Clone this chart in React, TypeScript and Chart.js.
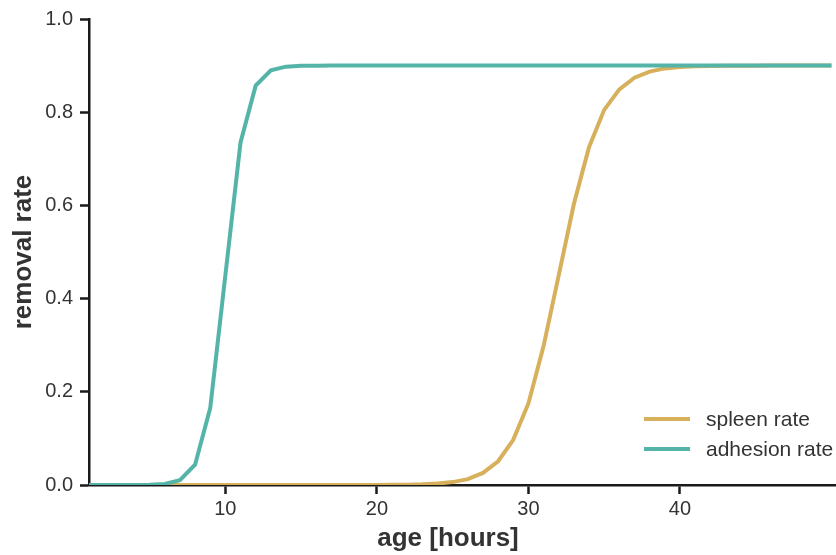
import { useEffect, useRef } from "react";
import { Chart, registerables } from "chart.js";

Chart.register(...registerables);

const ages = [
  1, 2, 3, 4, 5, 6, 7, 8, 9, 10,
  11, 12, 13, 14, 15, 16, 17, 18, 19, 20,
  21, 22, 23, 24, 25, 26, 27, 28, 29, 30,
  31, 32, 33, 34, 35, 36, 37, 38, 39, 40,
  41, 42, 43, 44, 45, 46, 47, 48, 49, 50,
];

const spleenRate = [
  0, 0, 0, 0, 0, 0, 0, 0, 0, 0,
  0, 0, 0, 0, 0, 0, 0, 0, 0.0001, 0.0002,
  0.0004, 0.0008, 0.0015, 0.003, 0.0062, 0.0125, 0.026, 0.051, 0.097, 0.175,
  0.298, 0.45, 0.603, 0.725, 0.805, 0.849, 0.874, 0.887, 0.894, 0.897,
  0.8985, 0.8993, 0.8997, 0.8998, 0.8999, 0.9, 0.9, 0.9, 0.9, 0.9,
];

const adhesionRate = [
  0, 0, 0, 0.0001, 0.0005, 0.0023, 0.0102, 0.0435, 0.165, 0.45,
  0.735, 0.857, 0.89, 0.8977, 0.8995, 0.8999, 0.9, 0.9, 0.9, 0.9,
  0.9, 0.9, 0.9, 0.9, 0.9, 0.9, 0.9, 0.9, 0.9, 0.9,
  0.9, 0.9, 0.9, 0.9, 0.9, 0.9, 0.9, 0.9, 0.9, 0.9,
  0.9, 0.9, 0.9, 0.9, 0.9, 0.9, 0.9, 0.9, 0.9, 0.9,
];

const xTicks = [10, 20, 30, 40];
const yTicks = [0, 0.2, 0.4, 0.6, 0.8, 1.0];
const seriesLabels = ["spleen rate", "adhesion rate"];
const xTitle = "age [hours]";
const yTitle = "removal rate";

const SPLEEN_COLOR = "#d7b05c";
const ADHESION_COLOR = "#55b4a8";
const FONT = "'Liberation Sans', Arial, Helvetica, sans-serif";
const AXIS_COLOR = "#1a1a1a";
const TEXT_COLOR = "#333333";

const insideLegend = {
  id: "insideLegend",
  afterDraw(chart: any) {
    const { ctx, chartArea } = chart;
    const colors = [SPLEEN_COLOR, ADHESION_COLOR];
    const lineStart = chartArea.right - 192;
    const lineEnd = lineStart + 46;
    const textX = lineStart + 62;
    const firstY = chartArea.bottom - 66;
    const rowGap = 30;
    ctx.save();
    ctx.font = `21px ${FONT}`;
    ctx.textBaseline = "middle";
    ctx.textAlign = "left";
    seriesLabels.forEach((label, i) => {
      const y = firstY + i * rowGap;
      ctx.strokeStyle = colors[i];
      ctx.lineWidth = 4;
      ctx.lineCap = "butt";
      ctx.beginPath();
      ctx.moveTo(lineStart, y);
      ctx.lineTo(lineEnd, y);
      ctx.stroke();
      ctx.fillStyle = TEXT_COLOR;
      ctx.fillText(label, textX, y + 1);
    });
    // x axis title
    ctx.font = `bold 26px ${FONT}`;
    ctx.textAlign = "center";
    ctx.textBaseline = "alphabetic";
    ctx.fillStyle = TEXT_COLOR;
    ctx.fillText(xTitle, chartArea.left + 359, chartArea.bottom + 61);
    ctx.restore();
  },
};

export default function App() {
  const canvasRef = useRef<HTMLCanvasElement | null>(null);

  useEffect(() => {
    if (!canvasRef.current) return;
    const chart = new Chart(canvasRef.current, {
      type: "line",
      data: {
        datasets: [
          {
            label: seriesLabels[0],
            data: ages.map((a, i) => ({ x: a, y: spleenRate[i] })),
            borderColor: SPLEEN_COLOR,
            backgroundColor: SPLEEN_COLOR,
            borderWidth: 4,
            pointRadius: 0,
            tension: 0,
            order: 1,
          },
          {
            label: seriesLabels[1],
            data: ages.map((a, i) => ({ x: a, y: adhesionRate[i] })),
            borderColor: ADHESION_COLOR,
            backgroundColor: ADHESION_COLOR,
            borderWidth: 4,
            pointRadius: 0,
            tension: 0,
            order: 0,
          },
        ],
      },
      options: {
        animation: false,
        responsive: false,
        devicePixelRatio: 1,
        layout: { padding: { top: 19, right: 0, left: 0, bottom: 0 } },
        plugins: {
          legend: { display: false },
          tooltip: { enabled: false },
        },
        scales: {
          x: {
            type: "linear",
            min: 1,
            max: 50.3,
            z: 1,
            afterBuildTicks: (s: any) => {
              s.ticks = xTicks.map((v) => ({ value: v }));
            },
            afterFit: (s: any) => {
              s.height = 70;
            },
            grid: {
              drawOnChartArea: false,
              drawTicks: true,
              tickLength: 9,
              tickWidth: 2.5,
              tickColor: AXIS_COLOR,
            },
            border: { display: true, color: AXIS_COLOR, width: 2.5 },
            ticks: {
              color: TEXT_COLOR,
              font: { family: FONT, size: 20 },
              padding: 3,
              maxRotation: 0,
              autoSkip: false,
              callback: (v: any) => String(v),
            },
            title: { display: false },
          },
          y: {
            type: "linear",
            min: 0,
            max: 1,
            z: 1,
            afterBuildTicks: (s: any) => {
              s.ticks = yTicks.map((v) => ({ value: v }));
            },
            afterFit: (s: any) => {
              s.width = 89;
            },
            grid: {
              drawOnChartArea: false,
              drawTicks: true,
              tickLength: 9,
              tickWidth: 2.5,
              tickColor: AXIS_COLOR,
            },
            border: { display: true, color: AXIS_COLOR, width: 2.5 },
            ticks: {
              color: TEXT_COLOR,
              font: { family: FONT, size: 20 },
              padding: 7,
              autoSkip: false,
              callback: (v: any) => Number(v).toFixed(1),
            },
            title: {
              display: true,
              text: yTitle,
              color: TEXT_COLOR,
              font: { family: FONT, size: 26, weight: "bold" },
              padding: { top: 8, bottom: 0 },
            },
          },
        },
      },
      plugins: [insideLegend],
    });
    return () => chart.destroy();
  }, []);

  return (
    <div style={{ position: "fixed", left: 0, top: 0, width: 836, height: 555, background: "#fff" }}>
      <canvas ref={canvasRef} width={836} height={555} style={{ display: "block", width: 836, height: 555 }} />
    </div>
  );
}
